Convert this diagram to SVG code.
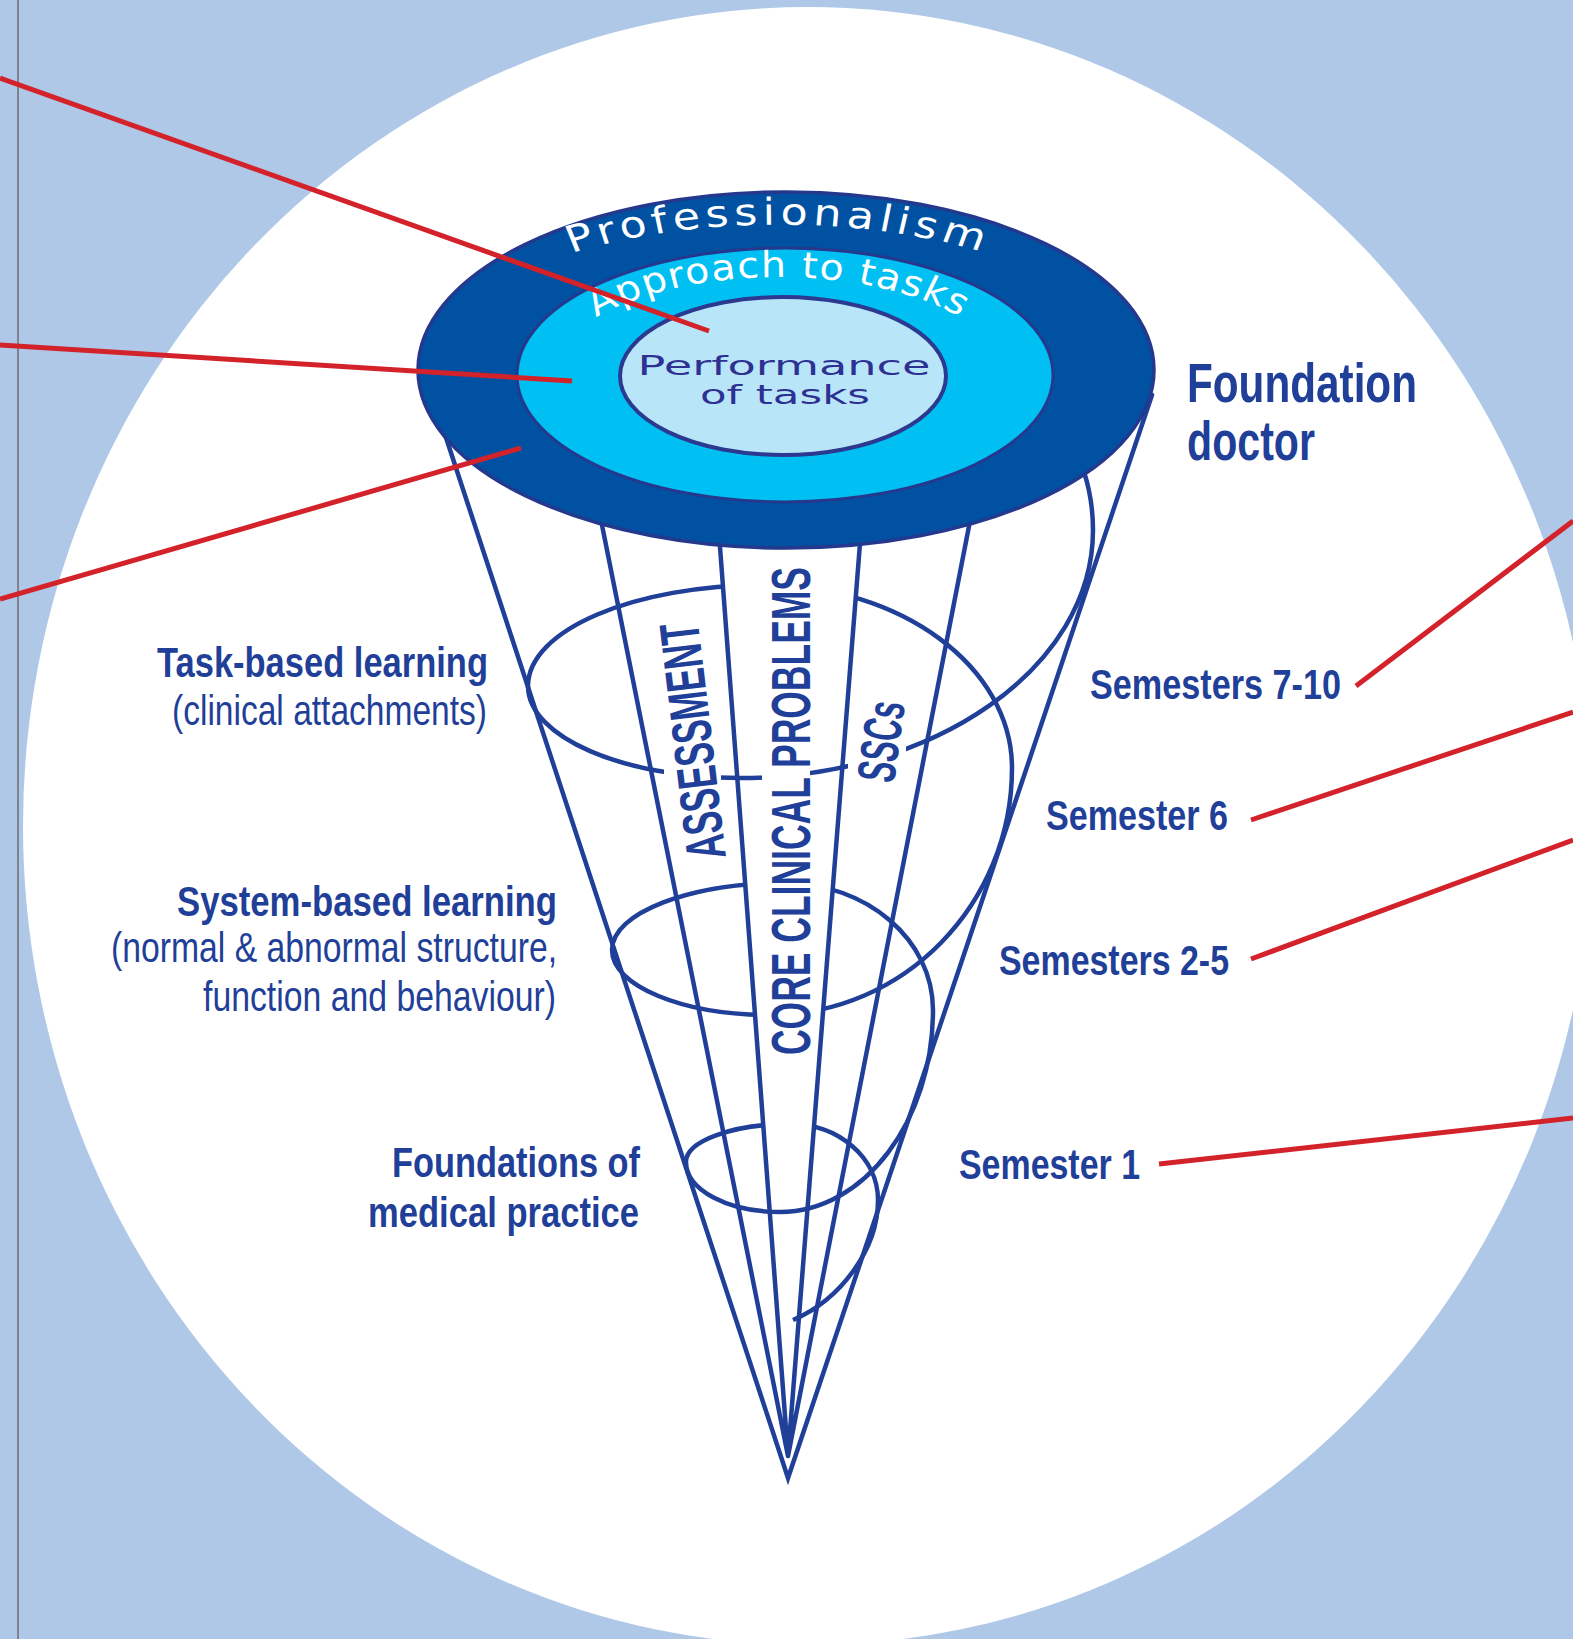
<svg xmlns="http://www.w3.org/2000/svg" width="1573" height="1639" viewBox="0 0 1573 1639">
<defs>
<style>
.cone{stroke:#1f3f98;stroke-width:4.5;fill:none;stroke-linecap:round}
.ring{stroke:#1f3f98;stroke-width:4.5;fill:none;stroke-linecap:butt}
.lbl{font-family:"Liberation Sans",Arial,sans-serif;fill:#1f3f98}
.b{font-weight:bold}
.red{stroke:#d3222a;stroke-width:5;fill:none}
.disc{font-family:"DejaVu Sans",Verdana,sans-serif}
</style>
<mask id="bandMask" maskUnits="userSpaceOnUse" x="0" y="0" width="1573" height="1639">
<rect x="0" y="0" width="1573" height="1639" fill="#fff"/>
<polygon points="720.8,560 858.8,560 812.2,1150 765,1150" fill="#000"/>
</mask>
<mask id="frontMask" maskUnits="userSpaceOnUse" x="0" y="0" width="1573" height="1639">
<rect x="0" y="0" width="1573" height="1639" fill="#fff"/>
<rect x="664" y="730" width="57" height="70" fill="#000"/>
<rect x="762" y="730" width="48" height="70" fill="#000"/>
<rect x="848" y="730" width="58" height="70" fill="#000"/>
</mask>
<path id="profArc" d="M589.75,259.7 A291.7,148 0 0 1 967.25,259.7"/>
<path id="apprArc" d="M596.7,330.2 A206.4,101 0 0 1 960.3,330.2"/>
</defs>

<g id="background">
<rect x="0" y="0" width="1573" height="1639" fill="#afc8e8"/>
<ellipse cx="808" cy="826" rx="785" ry="819" fill="#ffffff"/>
<line x1="18" y1="0" x2="18" y2="1639" stroke="#6d6e71" stroke-width="1.5"/>
</g>

<g id="cone">
<polyline class="cone" points="432,395 788,1478 1152,395" stroke-linejoin="miter"/>
<path class="cone" d="M593,480 L788,1456 M715,480 L788,1456 M865,480 L788,1456 M978,480 L788,1456"/>
<path id="ring-front-top" class="ring" mask="url(#frontMask)" d="M1080,462 C1086,475 1093,500 1093,530 C1093,667 935,778 740,778 C623,778 528,737 528,686"/>
<path id="ring-spiral" class="ring" mask="url(#bandMask)" d="M528,686 C528,630 634,585 765,585 C901,585 1012,667 1012,768 C1012,904 904,1015 770,1015 C683,1015 612,986 612,950 C612,913 689.5,883 785,883 C867,883 933,940 933,1010 C933,1121 864,1212 780,1212 C728,1212 686,1190 686,1162 C686,1141 733,1124 790,1124 C839,1124 878,1158 878,1200 C878,1250 840,1300 793,1320"/>
</g>

<g id="disc">
<ellipse cx="786" cy="370" rx="368" ry="178" fill="#0051a2" stroke="#24398e" stroke-width="3.5"/>
<ellipse cx="785" cy="375" rx="268" ry="127" fill="#00bff2" stroke="#24398e" stroke-width="3"/>
<ellipse cx="783" cy="376" rx="163" ry="79" fill="#b9e5f9" stroke="#2b3990" stroke-width="4"/>
<text class="disc" transform="matrix(1.2,0,0,1,-155.7,0)" font-size="37" fill="#ffffff" letter-spacing="4.2"><textPath href="#profArc" startOffset="50%" text-anchor="middle">Professionalism</textPath></text>
<text class="disc" transform="matrix(1.1,0,0,1,-77.85,0)" font-size="36" fill="#ffffff" letter-spacing="1.2"><textPath href="#apprArc" startOffset="50%" text-anchor="middle">Approach to tasks</textPath></text>
<text class="disc" x="784" y="375" font-size="26" fill="#2e3192" text-anchor="middle" textLength="293" lengthAdjust="spacingAndGlyphs">Performance</text>
<text class="disc" x="785" y="404" font-size="26" fill="#2e3192" text-anchor="middle" textLength="170" lengthAdjust="spacingAndGlyphs">of tasks</text>
</g>

<g id="columns">
<text class="lbl b" transform="translate(726,857) rotate(-96.8)" font-size="56" textLength="238" lengthAdjust="spacingAndGlyphs">ASSESSMENT</text>
<text class="lbl b" transform="translate(810,1055) rotate(-90)" font-size="56" textLength="488" lengthAdjust="spacingAndGlyphs">CORE CLINICAL PROBLEMS</text>
<text class="lbl b" transform="translate(894,784) rotate(-82.2)" font-size="54" textLength="81" lengthAdjust="spacingAndGlyphs">SSCs</text>
</g>

<g id="right-labels">
<text class="lbl b" x="1187" y="402" font-size="56" textLength="230" lengthAdjust="spacingAndGlyphs">Foundation</text>
<text class="lbl b" x="1187" y="460" font-size="56" textLength="128" lengthAdjust="spacingAndGlyphs">doctor</text>
<text class="lbl b" x="1090" y="699" font-size="43" textLength="251" lengthAdjust="spacingAndGlyphs">Semesters 7-10</text>
<text class="lbl b" x="1046" y="830" font-size="43" textLength="182" lengthAdjust="spacingAndGlyphs">Semester 6</text>
<text class="lbl b" x="999" y="975" font-size="43" textLength="230" lengthAdjust="spacingAndGlyphs">Semesters 2-5</text>
<text class="lbl b" x="959" y="1179" font-size="43" textLength="181" lengthAdjust="spacingAndGlyphs">Semester 1</text>
</g>

<g id="left-labels" text-anchor="end">
<text class="lbl b" x="488" y="677" font-size="43" textLength="331" lengthAdjust="spacingAndGlyphs">Task-based learning</text>
<text class="lbl" x="487" y="725" font-size="43" textLength="315" lengthAdjust="spacingAndGlyphs">(clinical attachments)</text>
<text class="lbl b" x="557" y="916" font-size="43" textLength="380" lengthAdjust="spacingAndGlyphs">System-based learning</text>
<text class="lbl" x="557" y="962" font-size="43" textLength="446" lengthAdjust="spacingAndGlyphs">(normal &amp; abnormal structure,</text>
<text class="lbl" x="556" y="1011" font-size="43" textLength="353" lengthAdjust="spacingAndGlyphs">function and behaviour)</text>
<text class="lbl b" x="640" y="1177" font-size="43" textLength="248" lengthAdjust="spacingAndGlyphs">Foundations of</text>
<text class="lbl b" x="639" y="1227" font-size="43" textLength="271" lengthAdjust="spacingAndGlyphs">medical practice</text>
</g>

<g id="connectors">
<line class="red" x1="0" y1="78" x2="709" y2="331"/>
<line class="red" x1="0" y1="345" x2="572" y2="381"/>
<line class="red" x1="0" y1="599" x2="521" y2="448"/>
<line class="red" x1="1356" y1="686" x2="1573" y2="521"/>
<line class="red" x1="1251" y1="820" x2="1573" y2="712"/>
<line class="red" x1="1251" y1="959" x2="1573" y2="840"/>
<line class="red" x1="1159" y1="1164" x2="1573" y2="1118"/>
</g>
</svg>
